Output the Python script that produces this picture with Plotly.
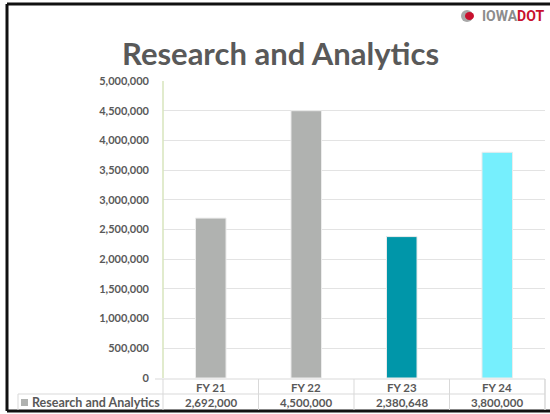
import plotly.graph_objects as go

categories = ['FY 21', 'FY 22', 'FY 23', 'FY 24']
values = [2692000, 4500000, 2380648, 3800000]
value_labels = ['2,692,000', '4,500,000', '2,380,648', '3,800,000']
series_name = 'Research and Analytics'
bar_colors = ['#b0b2b0', '#b0b2b0', '#0096a9', '#76effd']

W, H = 550, 414
L, R, T, B = 163, 545, 81, 378  # plot area in pixels
TEXT = '#595959'
GRID = '#e3e3e3'
FONT = 'Lato, Open Sans, sans-serif'


def px(x):
    return (x - L) / (R - L)


def py(y):
    return (B - y) / (B - T)


fig = go.Figure(go.Bar(
    x=categories, y=values,
    marker=dict(color=bar_colors, line=dict(color='#ececec', width=1)),
    width=0.32,
    hoverinfo='skip',
))

shapes = []
# frame
for x0, y0, x1, y1 in [(7, 4, 550, 4), (7, 4, 7, 411), (7, 411, 550, 411)]:
    shapes.append(dict(type='line', xref='paper', yref='paper',
                       x0=px(x0), y0=py(y0), x1=px(x1), y1=py(y1),
                       line=dict(color='#111111', width=3)))
# data table lines
for x0, y0, x1, y1 in [(155, 379, 545, 379), (18, 394, 545, 394),
                       (18, 394, 18, 410), (545, 379, 545, 410)]:
    shapes.append(dict(type='line', xref='paper', yref='paper',
                       x0=px(x0), y0=py(y0), x1=px(x1), y1=py(y1),
                       line=dict(color='#d9d9d9', width=1)))
for i in range(len(categories) + 1):
    xv = i / len(categories)
    shapes.append(dict(type='line', xref='paper', yref='paper',
                       x0=xv, x1=xv, y0=py(379), y1=py(410),
                       line=dict(color='#d9d9d9', width=1)))
# left axis line
shapes.append(dict(type='line', xref='paper', yref='paper',
                   x0=0, x1=0, y0=0, y1=1,
                   line=dict(color='#d7e4bd', width=1.5)))
# legend key
shapes.append(dict(type='rect', xref='paper', yref='paper',
                   x0=px(21), x1=px(28), y0=py(406), y1=py(399),
                   fillcolor='#b0b2b0', line=dict(width=0)))
# logo swoosh
shapes.append(dict(type='circle', xref='paper', yref='paper',
                   x0=px(461), x1=px(473), y0=py(22), y1=py(10),
                   fillcolor='#a8a8a8', line=dict(width=0)))
shapes.append(dict(type='circle', xref='paper', yref='paper',
                   x0=px(465), x1=px(474), y0=py(20), y1=py(12),
                   fillcolor='#c8102e', line=dict(width=0)))

annotations = [
    dict(text='<b>Research and Analytics</b>', x=px(280), y=py(53),
         xref='paper', yref='paper', xanchor='center', yanchor='middle',
         showarrow=False, font=dict(size=31, color=TEXT, family=FONT)),
    dict(text='<b><span style="color:#8c8c8c">IOWA</span>'
              '<span style="color:#c8102e">DOT</span></b>',
         x=px(546), y=py(16), xref='paper', yref='paper', xanchor='right',
         yanchor='middle', showarrow=False,
         font=dict(size=14, family='Roboto, sans-serif')),
    dict(text='<b>' + series_name + '</b>', x=px(30), y=py(402),
         xref='paper', yref='paper', xanchor='left', yanchor='middle',
         showarrow=False, font=dict(size=12.5, color=TEXT, family=FONT)),
]
for cat, lab in zip(categories, value_labels):
    annotations.append(dict(text='<b>' + cat + '</b>', x=cat, y=py(387),
                            xref='x', yref='paper', xanchor='center',
                            yanchor='middle', showarrow=False,
                            font=dict(size=11.5, color=TEXT, family=FONT)))
    annotations.append(dict(text='<b>' + lab + '</b>', x=cat, y=py(402),
                            xref='x', yref='paper', xanchor='center',
                            yanchor='middle', showarrow=False,
                            font=dict(size=11.5, color=TEXT, family=FONT)))

fig.update_layout(
    width=W, height=H,
    margin=dict(l=L, r=W - R, t=T, b=H - B),
    plot_bgcolor='white', paper_bgcolor='white',
    showlegend=False,
    font=dict(family=FONT, color=TEXT),
    xaxis=dict(showticklabels=False, showgrid=False, zeroline=False,
               showline=False),
    yaxis=dict(range=[0, 5000000], dtick=500000, tickformat=',d',
               gridcolor=GRID, gridwidth=1, zeroline=False, showline=False,
               ticklabelstandoff=13,
               tickfont=dict(size=11, color=TEXT, family=FONT),
               tickprefix='<b>', ticksuffix='</b>'),
    shapes=shapes,
    annotations=annotations,
)

# drop the default page margin so the figure sits at the window's origin
fig.write_html('out.html', config={'displayModeBar': False},
               post_script="document.body.style.margin='0';")
